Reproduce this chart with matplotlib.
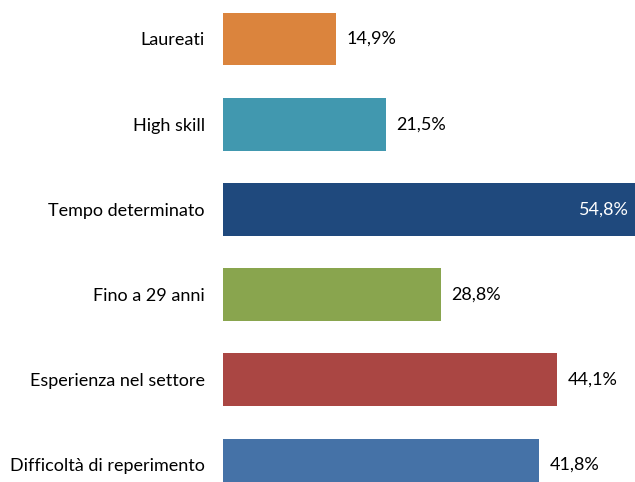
import matplotlib
matplotlib.use('Agg')
import matplotlib.pyplot as plt

categories = ['Difficoltà di reperimento', 'Esperienza nel settore', 'Fino a 29 anni',
              'Tempo determinato', 'High skill', 'Laureati']
values = [41.8, 44.1, 28.8, 54.8, 21.5, 14.9]
value_labels = ['41,8%', '44,1%', '28,8%', '54,8%', '21,5%', '14,9%']
colors = ['#4572A7', '#AA4643', '#89A54E', '#1F497D', '#4198AF', '#DB843D']

plt.rcParams['font.family'] = ['Lato', 'DejaVu Sans']

fig = plt.figure(figsize=(6.35, 4.82), dpi=100)
ax = fig.add_axes([0.351, -0.0531, 0.6535, 1.0606])

ypos = list(range(len(categories)))
ax.barh(ypos, values, height=0.62, color=colors)
ax.set_xlim(0, 54.8)
ax.set_ylim(-0.5, 5.5)

ax.set_yticks(ypos)
ax.set_yticklabels(categories, fontsize=13, color='#000000')
ax.tick_params(axis='y', length=0, pad=13)
ax.set_xticks([])
for s in ax.spines.values():
    s.set_visible(False)

for y, v, lab in zip(ypos, values, value_labels):
    if v > 50:
        ax.text(v - 1.2, y, lab, ha='right', va='center', fontsize=13, color='white')
    else:
        ax.text(v + 1.4, y, lab, ha='left', va='center', fontsize=13, color='#000000')

fig.savefig('out.png', dpi=100)
